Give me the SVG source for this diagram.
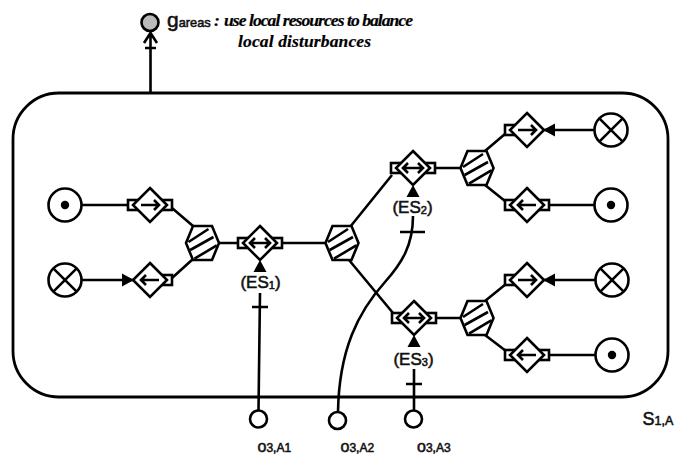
<svg xmlns="http://www.w3.org/2000/svg" width="686" height="459" viewBox="0 0 686 459">
<style>
.l{fill:none;stroke:#000;stroke-width:2.6}
.w{fill:#fff;stroke:#000;stroke-width:2.6}
.t{font-family:"Liberation Sans",Arial,sans-serif;fill:#111;stroke:#111;stroke-width:.55}
.i{font-family:"Liberation Serif","Times New Roman",serif;font-style:italic;font-weight:bold;font-size:17.5px;fill:#000;stroke:#000;stroke-width:.2}
</style>
<defs>
<g id="src"><circle r="16.5" class="w"/><circle r="4.200" fill="#000"/></g>
<g id="snk"><circle r="16.5" class="w"/><path class="l" d="M-11.7-11.7L11.7 11.7M-11.7 11.7L11.7-11.7"/></g>
<g id="hex"><path class="w" d="M-9.500-17H9.500L16.500 0 9.500 17H-9.500L-16.500 0Z"/><path class="l" d="M-14-1L6-14M-12.300 7L11-6M-8 15.700L14.300 2.300"/></g>
<path id="dm" class="w" d="M0-17L17 0 0 17-17 0Z"/>
<rect id="pl" x="-22" y="-5" width="10" height="10" class="w"/>
<rect id="pr" x="12" y="-5" width="10" height="10" class="w"/>
<path id="ar" class="l" d="M-9 0H9M4-5L9 0 4 5"/>
<path id="al" class="l" d="M9 0H-9M-4-5L-9 0-4 5"/>
<path id="ab" class="l" d="M-8 0H8M-5-5L-10 0-5 5M5-5L10 0 5 5"/>
<path id="hd" d="M1 0L-11-6.500V6.500Z" fill="#000"/>
<path id="up" d="M0-1L-6.500 11H6.500Z" fill="#000"/>
</defs>
<g id="boundary"><rect x="13" y="93" width="655" height="304" rx="46" ry="46" fill="none" stroke="#000" stroke-width="2.800"/></g>
<g id="connectors">
<path class="l" d="M81 205H128M81 280H133M172 208L193 226M172 278L193 259M219 243H239M282 243H325M350 227L392 175M349 260L393 313M435 168H460M436 318H461M485 151L505 134M485 185L505 201M485 301L506 284M485 335L506 351M548 205H595M544 130H595M548 355H596M544 280H596"/>
<path class="l" d="M150.500 93V32M144 43L150.500 33 157 43M145 48H156"/>
<path class="l" d="M260 293L258.500 410M252 307H268M414 369V410M406 384H422M400 232H425"/>
<path class="l" d="M338 412C339 350 358 312 385 282C402 263 413 245 413 216"/>
<use href="#hd" x="133" y="280"/><use href="#hd" transform="translate(544 130) rotate(180)"/><use href="#hd" transform="translate(544 280) rotate(180)"/>
<use href="#up" x="260" y="261"/><use href="#up" x="413" y="186"/><use href="#up" x="414" y="336"/>
</g>
<g id="goal"><circle cx="150" cy="22.500" r="8.500" fill="#bbb" stroke="#000" stroke-width="2.600"/></g>
<g id="n1"><use href="#src" x="65" y="205"/></g>
<g id="n2"><use href="#snk" x="65" y="280"/></g>
<g id="d1"><use href="#pl" x="150" y="205"/><use href="#pr" x="150" y="205"/><use href="#dm" x="150" y="205"/><use href="#ar" x="150" y="205"/></g>
<g id="d2"><use href="#pr" x="150" y="280"/><use href="#dm" x="150" y="280"/><use href="#al" x="150" y="280"/></g>
<g id="h1"><use href="#hex" x="202.500" y="243"/></g>
<g id="es1"><use href="#pl" x="260" y="243"/><use href="#pr" x="260" y="243"/><use href="#dm" x="260" y="243"/><use href="#ab" x="260" y="243"/></g>
<g id="h2"><use href="#hex" x="342" y="243"/></g>
<g id="es2"><use href="#pl" x="413" y="168"/><use href="#pr" x="413" y="168"/><use href="#dm" x="413" y="168"/><use href="#ab" x="413" y="168"/></g>
<g id="es3"><use href="#pl" x="414" y="318"/><use href="#pr" x="414" y="318"/><use href="#dm" x="414" y="318"/><use href="#ab" x="414" y="318"/></g>
<g id="h3"><use href="#hex" x="477" y="168"/></g>
<g id="h4"><use href="#hex" x="477" y="318"/></g>
<g id="d3"><use href="#pl" x="527" y="130"/><use href="#dm" x="527" y="130"/><use href="#ar" x="527" y="130"/></g>
<g id="d4"><use href="#pl" x="527" y="205"/><use href="#pr" x="527" y="205"/><use href="#dm" x="527" y="205"/><use href="#al" x="527" y="205"/></g>
<g id="d5"><use href="#pl" x="527" y="280"/><use href="#dm" x="527" y="280"/><use href="#ar" x="527" y="280"/></g>
<g id="d6"><use href="#pl" x="527" y="355"/><use href="#pr" x="527" y="355"/><use href="#dm" x="527" y="355"/><use href="#al" x="527" y="355"/></g>
<g id="n3"><use href="#snk" x="611" y="130"/></g>
<g id="n4"><use href="#src" x="611" y="205"/></g>
<g id="n5"><use href="#snk" x="612" y="280"/></g>
<g id="n6"><use href="#src" x="612" y="355"/></g>
<g id="o1"><circle cx="258.500" cy="419" r="8.500" class="w"/></g>
<g id="o2"><circle cx="337.500" cy="420.500" r="8.500" class="w"/></g>
<g id="o3"><circle cx="413.500" cy="419" r="8.500" class="w"/></g>
<g id="labels">
<text class="t" x="167" y="26.500" font-size="21">g<tspan font-size="12.800">areas</tspan></text>
<text class="i" x="214" y="26" font-style="normal">:</text>
<text class="i" x="224" y="26" textLength="189" lengthAdjust="spacing">use local resources to balance</text>
<text class="i" x="238" y="47" textLength="133" lengthAdjust="spacing">local disturbances</text>
<text class="t" x="260.500" y="288" text-anchor="middle" font-size="17">(ES<tspan font-size="11" dy="1">1</tspan><tspan dy="-1">)</tspan></text>
<text class="t" x="412.500" y="213" text-anchor="middle" font-size="17">(ES<tspan font-size="11" dy="1">2</tspan><tspan dy="-1">)</tspan></text>
<text class="t" x="413.500" y="365" text-anchor="middle" font-size="17">(ES<tspan font-size="11" dy="1">3</tspan><tspan dy="-1">)</tspan></text>
<text class="t" x="257.500" y="452" font-size="16">o<tspan font-size="12">3,A1</tspan></text>
<text class="t" x="340.500" y="452" font-size="16">o<tspan font-size="12">3,A2</tspan></text>
<text class="t" x="417" y="452" font-size="16">o<tspan font-size="12">3,A3</tspan></text>
<text class="t" x="642.500" y="425" font-size="18">S<tspan font-size="12.500">1,A</tspan></text>
</g>
</svg>
